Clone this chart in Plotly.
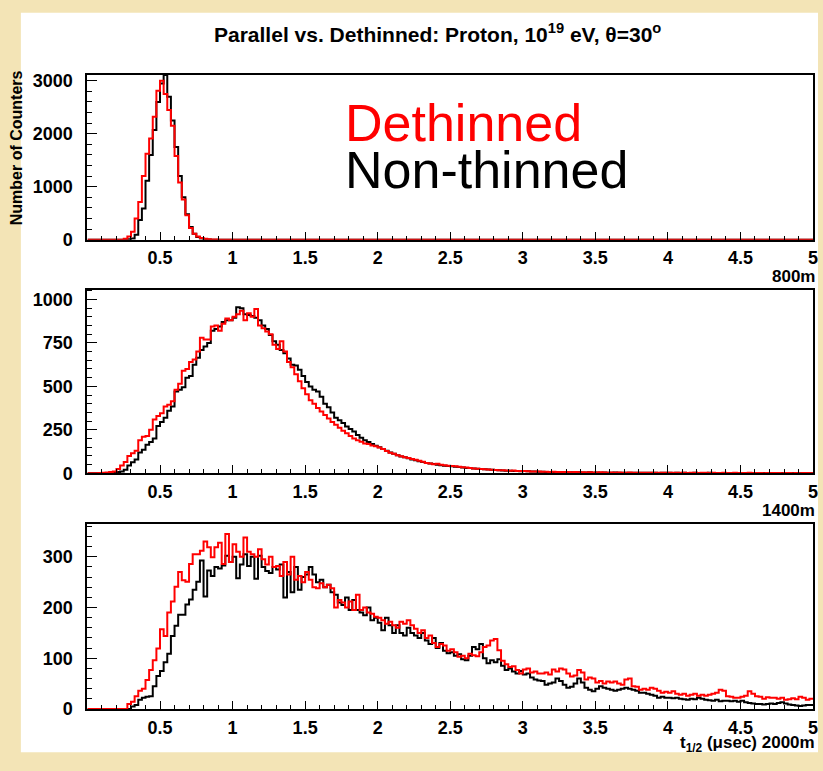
import plotly.graph_objects as go

# ---------------------------------------------------------------------------
# Histogram binning: 200 bins of 0.025 usec over [0, 5]
# ---------------------------------------------------------------------------
N_BINS = 200
X_MIN, X_MAX = 0.0, 5.0

SERIES_DETHINNED = "Dethinned"
SERIES_NONTHINNED = "Non-thinned"

# ---- 800 m ----------------------------------------------------------------
counts_800m_dethinned = [
    0, 0, 0, 0, 0, 0, 0, 0, 0, 0,
    15, 60, 150, 400, 710, 1200, 1620, 1910, 2320, 2810,
    3000, 2750, 2450, 2150, 1580, 1080, 760, 460, 220, 110,
    60, 30, 15, 8, 4, 2, 0, 0, 0, 0,
    0, 0, 0, 0, 0, 0, 0, 0, 0, 0,
    0, 0, 0, 0, 0, 0, 0, 0, 0, 0,
    0, 0, 0, 0, 0, 0, 0, 0, 0, 0,
    0, 0, 0, 0, 0, 0, 0, 0, 0, 0,
    0, 0, 0, 0, 0, 0, 0, 0, 0, 0,
    0, 0, 0, 0, 0, 0, 0, 0, 0, 0,
    0, 0, 0, 0, 0, 0, 0, 0, 0, 0,
    0, 0, 0, 0, 0, 0, 0, 0, 0, 0,
    0, 0, 0, 0, 0, 0, 0, 0, 0, 0,
    0, 0, 0, 0, 0, 0, 0, 0, 0, 0,
    0, 0, 0, 0, 0, 0, 0, 0, 0, 0,
    0, 0, 0, 0, 0, 0, 0, 0, 0, 0,
    0, 0, 0, 0, 0, 0, 0, 0, 0, 0,
    0, 0, 0, 0, 0, 0, 0, 0, 0, 0,
    0, 0, 0, 0, 0, 0, 0, 0, 0, 0,
    0, 0, 0, 0, 0, 0, 0, 0, 0, 0,
]
counts_800m_nonthinned = [
    0, 0, 0, 0, 0, 0, 0, 0, 0, 0,
    0, 5, 20, 90, 370, 590, 1110, 1600, 2070, 2600,
    2950, 3110, 2700, 2250, 1750, 1200, 800, 480, 240, 110,
    50, 20, 8, 3, 0, 0, 0, 0, 0, 0,
    0, 0, 0, 0, 0, 0, 0, 0, 0, 0,
    0, 0, 0, 0, 0, 0, 0, 0, 0, 0,
    0, 0, 0, 0, 0, 0, 0, 0, 0, 0,
    0, 0, 0, 0, 0, 0, 0, 0, 0, 0,
    0, 0, 0, 0, 0, 0, 0, 0, 0, 0,
    0, 0, 0, 0, 0, 0, 0, 0, 0, 0,
    0, 0, 0, 0, 0, 0, 0, 0, 0, 0,
    0, 0, 0, 0, 0, 0, 0, 0, 0, 0,
    0, 0, 0, 0, 0, 0, 0, 0, 0, 0,
    0, 0, 0, 0, 0, 0, 0, 0, 0, 0,
    0, 0, 0, 0, 0, 0, 0, 0, 0, 0,
    0, 0, 0, 0, 0, 0, 0, 0, 0, 0,
    0, 0, 0, 0, 0, 0, 0, 0, 0, 0,
    0, 0, 0, 0, 0, 0, 0, 0, 0, 0,
    0, 0, 0, 0, 0, 0, 0, 0, 0, 0,
    0, 0, 0, 0, 0, 0, 0, 0, 0, 0,
]

# ---- 1400 m ---------------------------------------------------------------
counts_1400m_dethinned = [
    0, 0, 1, 2, 3, 5, 7, 10, 25, 45,
    65, 100, 115, 130, 190, 210, 215, 250, 310, 330,
    345, 385, 395, 415, 480, 515, 590, 600, 640, 655,
    700, 780, 770, 770, 845, 850, 820, 860, 890, 880,
    900, 915, 935, 880, 920, 900, 945, 850, 835, 815,
    800, 740, 715, 760, 700, 640, 610, 570, 530, 490,
    455, 420, 400, 375, 355, 335, 315, 295, 280, 262,
    245, 230, 215, 200, 190, 182, 172, 168, 160, 155,
    148, 140, 128, 118, 112, 104, 98, 92, 88, 83,
    78, 72, 66, 60, 56, 52, 55, 50, 46, 44,
    42, 40, 38, 35, 33, 30, 28, 27, 25, 24,
    22, 21, 19, 18, 17, 16, 15, 16, 14, 13,
    14, 12, 11, 10, 11, 9, 9, 8, 9, 8,
    7, 8, 7, 6, 7, 6, 6, 5, 6, 5,
    5, 6, 5, 4, 5, 4, 5, 4, 4, 5,
    4, 4, 3, 4, 4, 3, 4, 3, 3, 4,
    3, 3, 4, 3, 3, 2, 3, 3, 2, 3,
    3, 2, 3, 2, 2, 3, 2, 2, 3, 2,
    2, 2, 3, 2, 2, 2, 1, 2, 2, 2,
    2, 1, 2, 2, 1, 2, 1, 2, 2, 1,
]
counts_1400m_nonthinned = [
    0, 0, 0, 1, 1, 2, 3, 5, 7, 10,
    20, 45, 64, 80, 120, 135, 165, 180, 200, 272,
    295, 320, 360, 385, 470, 480, 495, 550, 560, 625,
    665, 710, 730, 750, 820, 830, 845, 870, 880, 880,
    895, 955, 950, 915, 910, 905, 895, 880, 850, 830,
    795, 760, 740, 710, 690, 660, 625, 620, 595, 560,
    525, 500, 480, 470, 440, 400, 380, 350, 320, 305,
    290, 270, 255, 240, 220, 205, 190, 180, 168, 158,
    150, 140, 130, 120, 112, 104, 97, 92, 86, 80,
    75, 70, 65, 60, 56, 53, 50, 47, 44, 42,
    40, 38, 36, 33, 31, 30, 28, 26, 25, 23,
    22, 20, 19, 18, 16, 15, 15, 14, 13, 12,
    13, 12, 10, 11, 9, 9, 8, 8, 7, 8,
    7, 6, 7, 6, 5, 6, 5, 5, 6, 4,
    5, 4, 5, 4, 4, 5, 4, 3, 4, 4,
    3, 4, 3, 3, 4, 3, 3, 2, 3, 3,
    3, 2, 3, 2, 3, 2, 2, 3, 2, 2,
    2, 3, 2, 2, 2, 1, 2, 2, 2, 1,
    2, 2, 1, 2, 2, 1, 2, 1, 2, 1,
    1, 2, 1, 1, 2, 1, 1, 2, 1, 1,
]

# ---- 2000 m ---------------------------------------------------------------
counts_2000m_dethinned = [
    0, 0, 0, 0, 0, 0, 0, 0, 0, 0,
    0, 10, 14, 25, 36, 40, 57, 77, 96, 119,
    157, 144, 190, 212, 241, 270, 254, 251, 286, 305,
    305, 312, 330, 319, 299, 319, 328, 286, 345, 290,
    325, 310, 300, 338, 310, 305, 300, 315, 295, 285,
    300, 280, 282, 262, 290, 265, 300, 255, 262, 250,
    270, 255, 240, 238, 248, 240, 245, 238, 200, 215,
    210, 200, 212, 195, 225, 195, 200, 190, 188, 182,
    180, 175, 168, 172, 165, 160, 172, 168, 175, 165,
    158, 150, 155, 140, 145, 130, 122, 128, 125, 115,
    118, 112, 103, 105, 100, 109, 106, 104, 112, 122,
    125, 135, 138, 116, 95, 88, 83, 84, 77, 70,
    78, 80, 72, 74, 70, 70, 72, 68, 78, 74,
    80, 78, 70, 64, 66, 77, 72, 58, 62, 60,
    52, 55, 50, 54, 52, 54, 50, 48, 58, 60,
    45, 44, 38, 40, 38, 42, 40, 36, 32, 34,
    32, 35, 30, 28, 30, 26, 28, 30, 26, 28,
    26, 28, 30, 32, 38, 36, 25, 24, 22, 22,
    24, 26, 35, 30, 25, 24, 20, 23, 22, 22,
    20, 22, 18, 19, 21, 19, 24, 22, 18, 20,
]
counts_2000m_nonthinned = [
    0, 0, 0, 0, 0, 0, 0, 0, 0, 0,
    0, 0, 5, 8, 18, 22, 24, 25, 45, 65,
    75, 92, 109, 144, 164, 186, 186, 206, 216, 235,
    251, 293, 222, 273, 262, 280, 277, 283, 302, 290,
    300, 258, 285, 305, 282, 300, 257, 302, 280, 272,
    268, 280, 275, 285, 220, 270, 230, 280, 235, 260,
    265, 280, 265, 250, 255, 240, 245, 230, 225, 210,
    205, 220, 195, 215, 195, 190, 185, 200, 175, 180,
    170, 155, 180, 165, 150, 165, 150, 145, 160, 150,
    145, 140, 150, 135, 128, 140, 120, 130, 115, 110,
    112, 105, 108, 98, 96, 105, 122, 118, 128, 100,
    90, 96, 92, 98, 85, 77, 80, 74, 70, 75,
    68, 70, 62, 58, 56, 55, 48, 50, 52, 60,
    55, 48, 42, 44, 50, 60, 52, 42, 38, 35,
    40, 45, 42, 40, 38, 36, 38, 40, 42, 40,
    38, 36, 32, 32, 30, 28, 26, 22, 24, 22,
    22, 21, 22, 20, 19, 18, 20, 19, 22, 20,
    18, 17, 16, 18, 15, 16, 16, 15, 16, 14,
    16, 13, 12, 11, 10, 10, 9, 10, 11, 10,
    12, 13, 11, 9, 8, 7, 6, 7, 8, 8,
]

# Axis tick labels
x_tick_values = [0.5, 1, 1.5, 2, 2.5, 3, 3.5, 4, 4.5, 5]
x_tick_labels = ["0.5", "1", "1.5", "2", "2.5", "3", "3.5", "4", "4.5", "5"]
panel_labels = ["800m", "1400m", "t<sub>1/2</sub> (\u03bcsec) 2000m"]

# ---------------------------------------------------------------------------
# Page geometry (pixels)
# ---------------------------------------------------------------------------
W, H = 823, 771
FONT = "Liberation Sans"
CREAM = "#f3e4b6"

panels = [
    # (data red, data black, y max, major step, minor step, top px, bottom px)
    (counts_800m_dethinned, counts_800m_nonthinned, 3115, 1000, 200, 72, 240),
    (counts_1400m_dethinned, counts_1400m_nonthinned, 1056, 250, 50, 291, 478),
    (counts_2000m_dethinned, counts_2000m_nonthinned, 364, 100, 20, 530, 718),
]
PLOT_LEFT, PLOT_RIGHT = 88, 818


def fx(p):
    return p / W


def fy(p):
    return 1 - p / H


bin_edges = [X_MIN + (X_MAX - X_MIN) * i / N_BINS for i in range(N_BINS + 1)]
minor_x = [round(0.1 * k, 1) for k in range(1, 50)]


def step(values, color, name, xa, ya):
    return go.Scatter(
        x=bin_edges,
        y=list(values) + [values[-1]],
        mode="lines",
        line=dict(color=color, width=2, shape="hv"),
        name=name,
        xaxis=xa,
        yaxis=ya,
        showlegend=False,
        hoverinfo="skip",
    )


fig = go.Figure()
layout = dict(
    width=W,
    height=H,
    margin=dict(l=0, r=0, t=0, b=0),
    paper_bgcolor=CREAM,
    plot_bgcolor="white",
    showlegend=False,
)

tick_font = dict(family=FONT, size=18, color="black", weight="bold")

for k, (red, black, ymax, major, minor, top, bottom) in enumerate(panels, start=1):
    xa = "x" if k == 1 else f"x{k}"
    ya = "y" if k == 1 else f"y{k}"
    fig.add_trace(step(black, "black", SERIES_NONTHINNED, xa, ya))
    fig.add_trace(step(red, "#ff0000", SERIES_DETHINNED, xa, ya))

    layout["xaxis" if k == 1 else f"xaxis{k}"] = dict(
        domain=[fx(PLOT_LEFT), fx(PLOT_RIGHT)],
        anchor=ya,
        range=[X_MIN, X_MAX],
        tickmode="array",
        tickvals=x_tick_values,
        ticktext=x_tick_labels,
        ticks="inside",
        ticklen=8,
        tickwidth=1,
        tickcolor="black",
        minor=dict(tickmode="array", tickvals=minor_x, ticks="inside",
                   ticklen=4, tickwidth=1, tickcolor="black"),
        showline=True,
        mirror=True,
        linecolor="black",
        linewidth=2,
        showgrid=False,
        zeroline=False,
        tickfont=tick_font,
        ticklabelstandoff=1,
        ticklabeloverflow="allow",
    )
    layout["yaxis" if k == 1 else f"yaxis{k}"] = dict(
        domain=[fy(bottom), fy(top)],
        anchor=xa,
        range=[0, ymax],
        tick0=0,
        dtick=major,
        ticks="inside",
        ticklen=10,
        tickwidth=1,
        tickcolor="black",
        minor=dict(tick0=0, dtick=minor, ticks="inside", ticklen=5,
                   tickwidth=1, tickcolor="black"),
        showline=True,
        mirror=True,
        linecolor="black",
        linewidth=2,
        showgrid=False,
        zeroline=False,
        tickfont=tick_font,
        ticklabelstandoff=9,
        ticklabeloverflow="allow",
    )

annotations = [
    dict(text="Parallel vs. Dethinned: Proton, 10<sup>19</sup> eV, \u03b8=30<sup>o</sup>",
         x=fx(440), y=fy(30), xanchor="center", yanchor="middle",
         font=dict(family=FONT, size=21, color="black", weight="bold")),
    dict(text="Number of Counters", textangle=-90,
         x=fx(16), y=fy(146), xanchor="center", yanchor="middle",
         font=dict(family=FONT, size=16, color="black", weight="bold")),
    dict(text=SERIES_DETHINNED, x=fx(345), y=fy(121), xanchor="left", yanchor="middle",
         font=dict(family=FONT, size=52, color="#ff0000")),
    dict(text=SERIES_NONTHINNED, x=fx(345), y=fy(169), xanchor="left", yanchor="middle",
         font=dict(family=FONT, size=52, color="black")),
]
for label, ypx in zip(panel_labels, [278, 516, 754]):
    annotations.append(dict(text=label, x=fx(822), y=fy(ypx), xanchor="right",
                            yanchor="middle",
                            font=dict(family=FONT, size=17, color="black", weight="bold")))
for a in annotations:
    a.update(xref="paper", yref="paper", showarrow=False)
layout["annotations"] = annotations

# white sheet behind the plots
layout["shapes"] = [dict(type="rect", xref="paper", yref="paper",
                         x0=fx(21), x1=1.0, y0=fy(762), y1=fy(9),
                         fillcolor="white", line=dict(width=0), layer="below")]

fig.update_layout(**layout)
fig.write_html("out.html")
